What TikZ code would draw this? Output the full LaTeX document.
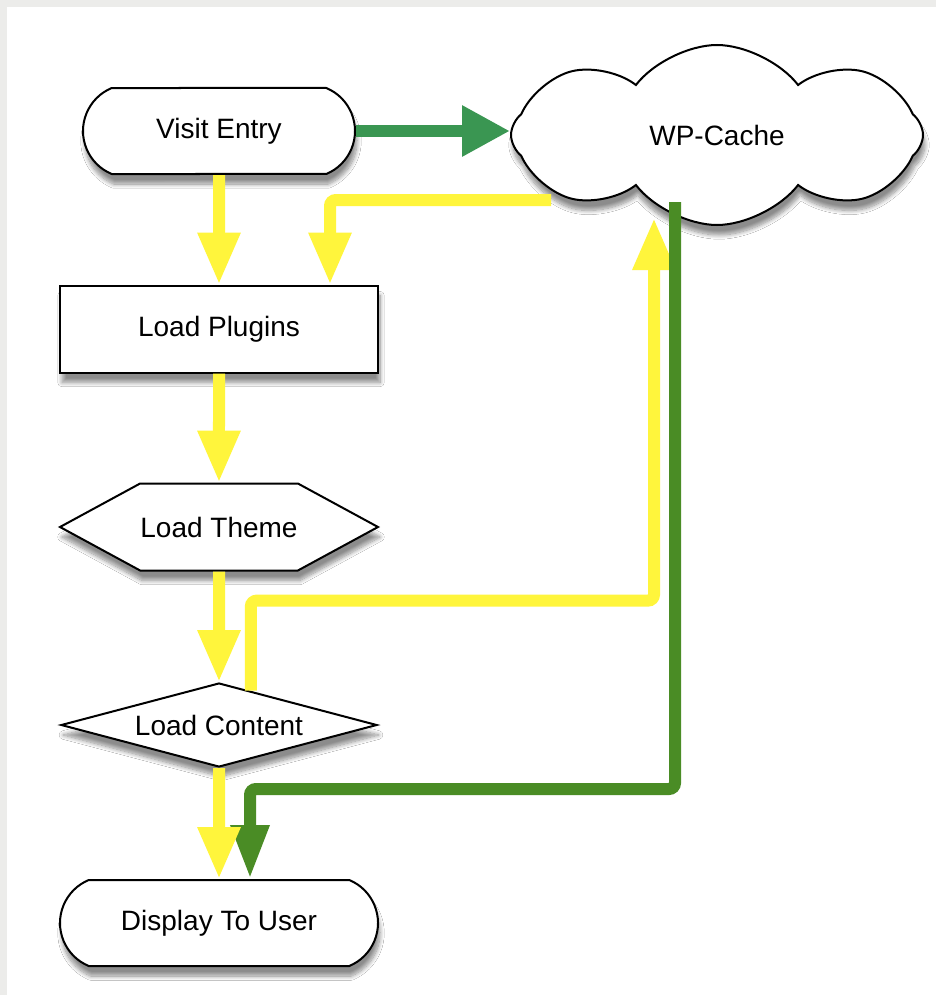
\documentclass[tikz,border=0pt]{standalone}
\usepackage{fontspec}
\setmainfont{Liberation Sans}
\usepackage{tikz}
\usetikzlibrary{positioning,shapes.misc,shapes.geometric,shapes.symbols,arrows.meta,calc,shadows.blur}
\definecolor{myyellow}{RGB}{255,245,60}
\definecolor{mygreen}{RGB}{58,150,82}
\definecolor{mydkgreen}{RGB}{74,140,37}
\definecolor{mygray}{RGB}{236,236,234}

\tikzset{
  shape base/.style={draw, line width=1pt, fill=white, inner sep=0pt,
    font=\fontsize{14}{16}\selectfont,
    blur shadow={shadow xshift=1pt, shadow yshift=-5pt, shadow blur steps=10, shadow opacity=45}},
  startstop/.style={shape base, rounded rectangle, rounded rectangle arc length=135,
    minimum width=159pt, minimum height=43pt},
  process/.style={shape base, rectangle, minimum width=159pt, minimum height=43.5pt},
  hexa/.style={shape base, signal, signal to=east and west, signal pointer angle=57,
    minimum width=159pt, minimum height=43.5pt},
  decision/.style={shape base, diamond, aspect=3.8, minimum width=158pt, minimum height=42pt},
  cachecloud/.style={shape base, cloud, cloud puffs=8, cloud puff arc=105, aspect=2.3,
    minimum width=206pt, minimum height=90pt},
  ylink/.style={draw=myyellow, line width=6pt, rounded corners=3pt, -{Triangle[width=20pt,length=26pt]}},
  glink/.style={draw=mygreen, line width=6pt, -{Triangle[width=24pt,length=24pt]}},
  dlink/.style={draw=mydkgreen, line width=6pt, rounded corners=3pt, -{Triangle[width=18pt,length=27pt]}}
}

\begin{document}
\begin{tikzpicture}[x=0.5pt, y=-0.5pt, node distance=99pt]
        % page
        \fill[mygray] (0,0) rectangle (936,995);
        \fill[white] (7,7) rectangle (936,995);
        \useasboundingbox (0,0) rectangle (936,995);

        \node[startstop, minimum width=136pt] (visit) at (219,131) {Visit Entry};
        \node[process] (plugins) [below of=visit] {Load Plugins};
        \node[hexa] (theme) [below of=plugins] {Load Theme};
        \node[decision] (content) [below of=theme] {Load Content};
        \node[startstop] (display) [below of=content] {Display To User};
        \node[cachecloud] (cache) [right of=visit, node distance=249pt, yshift=-2pt] {WP-Cache};

        \draw[glink] (visit.east) -- (visit.east -| cache.west);
        \draw[ylink] (visit) -- (plugins);
        \draw[ylink] ($(cache.center)+(-166,65)$) -| ([xshift=55.5pt]plugins.north);
        \draw[ylink] (plugins) -- (theme);
        \draw[ylink] (theme) -- (content);
        \draw[ylink] ($(content.north)!0.2!(content.east)$) -- ++(0,-90)
              -| ([xshift=-31.5pt, yshift=4pt]cache.south);
        \draw[dlink] ([xshift=-21pt, yshift=12pt]cache.south) |- ($(display.north)+(31,-90)$)
              -- ($(display.north)+(31,0)$);
        \draw[ylink] (content) -- (display);
    \end{tikzpicture}
\end{document}
